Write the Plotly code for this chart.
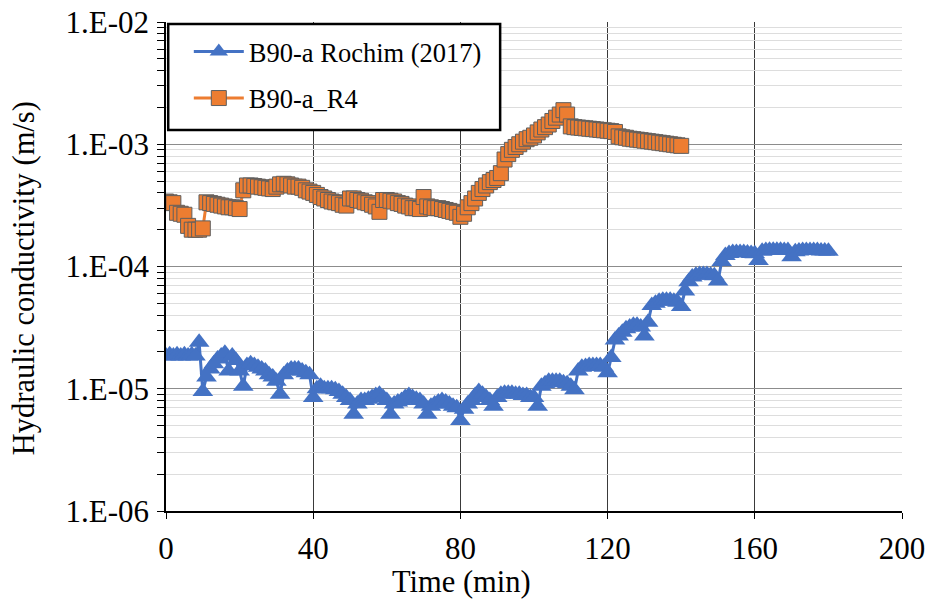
import plotly.graph_objects as go

# Hydraulic conductivity readings, one per minute
rochim_k_e5 = [
    1.85, 1.9, 1.85, 1.9, 1.85, 1.9, 1.85, 1.9, 1.85, 2.4,
    0.95, 1.25, 1.45, 1.6, 1.75, 1.85, 1.95, 1.4, 1.85, 1.7,
    1.4, 1.05, 1.55, 1.6, 1.55, 1.5, 1.45, 1.4, 1.3, 1.25,
    1.15, 0.9, 1.3, 1.4, 1.45, 1.45, 1.45, 1.4, 1.35, 1.3,
    0.85, 1.0, 1.05, 1.0, 1.0, 1.0, 0.98, 0.95, 0.9, 0.85,
    0.8, 0.62, 0.75, 0.8, 0.8, 0.82, 0.85, 0.88, 0.9, 0.85,
    0.8, 0.62, 0.75, 0.78, 0.8, 0.85, 0.88, 0.85, 0.82, 0.8,
    0.75, 0.62, 0.72, 0.75, 0.78, 0.8, 0.78, 0.75, 0.72, 0.7,
    0.55, 0.68, 0.75, 0.8, 0.88, 0.95, 0.9, 0.85, 0.8, 0.72,
    0.85, 0.9, 0.92, 0.92, 0.92, 0.9, 0.9, 0.88, 0.88, 0.85,
    0.85, 0.72, 1.05, 1.1, 1.15, 1.15, 1.15, 1.15, 1.12, 1.1,
    1.05, 0.98, 1.4, 1.5, 1.52, 1.55, 1.55, 1.55, 1.55, 1.5,
    1.35, 1.8, 2.5, 2.7, 2.9, 3.1, 3.2, 3.3, 3.3, 3.2,
    2.7, 3.5, 4.8, 5.0, 5.2, 5.3, 5.3, 5.3, 5.2, 5.1,
    4.7, 6.3, 7.5, 8.2, 8.5, 8.6, 8.6, 8.6, 8.5, 8.4,
    7.6, 11.0, 12.3, 12.8, 13.0, 13.0, 13.0, 13.0, 12.9, 12.8,
    12.7, 11.2, 13.3, 13.5, 13.6, 13.6, 13.6, 13.6, 13.5, 13.5,
    12.0, 13.2, 13.4, 13.5, 13.5, 13.5, 13.5, 13.5, 13.4, 13.4,
    13.3,
]

r4_k_e4 = [
    3.4, 3.35, 3.3, 2.75, 2.7, 2.65, 2.15, 2.0, 2.0, 2.0,
    2.05, 3.35, 3.3, 3.25, 3.2, 3.15, 3.1, 3.05, 3.05, 3.0,
    2.95, 4.2, 4.6, 4.6, 4.55, 4.5, 4.45, 4.4, 4.35, 4.3,
    4.5, 4.7, 4.75, 4.7, 4.6, 4.5, 4.5, 4.4, 4.2, 4.1,
    4.0, 3.85, 3.7, 3.6, 3.5, 3.4, 3.35, 3.3, 3.2, 3.15,
    3.6, 3.6, 3.5, 3.45, 3.35, 3.3, 3.2, 3.1, 2.8, 3.5,
    3.5, 3.45, 3.4, 3.3, 3.25, 3.15, 3.1, 3.0, 3.0, 2.95,
    3.7, 3.1, 3.05, 3.0, 3.0, 2.95, 2.9, 2.85, 2.8, 2.75,
    2.55, 2.7, 3.05, 3.3, 3.6, 4.0, 4.3, 4.6, 4.9, 5.1,
    5.3, 5.8, 7.5, 8.3, 9.0, 9.5, 10.0, 10.5, 11.0, 11.3,
    11.8, 12.5, 13.2, 13.8, 14.5, 15.5, 16.5, 17.5, 19.0, 17.5,
    14.0, 13.8, 13.7, 13.6, 13.5, 13.4, 13.3, 13.2, 13.1, 13.0,
    12.9, 12.8, 12.6, 11.6, 11.4, 11.3, 11.1, 11.0, 10.9, 10.8,
    10.7, 10.6, 10.5, 10.4, 10.3, 10.2, 10.1, 10.0, 9.9, 9.8,
    9.7,
]

rochim_time = list(range(len(rochim_k_e5)))
r4_time = list(range(len(r4_k_e4)))
rochim_k = [v * 1e-5 for v in rochim_k_e5]
r4_k = [v * 1e-4 for v in r4_k_e4]

y_tick_vals = [1e-6, 1e-5, 1e-4, 1e-3, 1e-2]
y_tick_text = ['1.E-06', '1.E-05', '1.E-04', '1.E-03', '1.E-02']
y_minor_vals = [k * d for d in [1e-6, 1e-5, 1e-4, 1e-3] for k in range(2, 10)]
x_tick_vals = [0, 40, 80, 120, 160, 200]
x_grid_vals = [40, 80, 120, 160]

serif = 'Liberation Serif'
axis_font = dict(family=serif, size=31, color='black')
title_font = dict(family=serif, size=30.5, color='black')
legend_font = dict(family=serif, size=26.5, color='black')

fig = go.Figure()
fig.add_trace(go.Scatter(x=rochim_time, y=rochim_k, mode='lines+markers',
                         name='B90-a Rochim (2017)', legendgroup='a',
                         line=dict(color='#4472C4', width=3),
                         marker=dict(symbol='triangle-up', size=18, color='#4472C4',
                                     line=dict(width=0))))
fig.add_trace(go.Scatter(x=r4_time, y=r4_k, mode='lines+markers',
                         name='B90-a_R4', legendgroup='b',
                         line=dict(color='#ED7D31', width=3),
                         marker=dict(symbol='square', size=15, color='#ED7D31',
                                     line=dict(width=1, color='#5f5f5f'))))

# legend frame
fig.add_shape(type='rect', xref='paper', yref='paper',
              x0=0.003, x1=0.454, y0=0.779, y1=0.996,
              line=dict(color='black', width=2.5), fillcolor='white', layer='above')

# axis titles (the x title sits left of centre, as in the original)
fig.add_annotation(text='Time (min)', xref='paper', yref='paper', x=0.402, y=-0.146,
                   xanchor='center', yanchor='middle', showarrow=False, font=title_font)
fig.add_annotation(text='Hydraulic conductivity (m/s)', xref='paper', yref='paper',
                   x=-0.193, y=0.476, textangle=-90, xanchor='center', yanchor='middle',
                   showarrow=False, font=title_font)

fig.update_layout(
    width=927, height=600,
    margin=dict(l=166, r=25, t=22, b=89),
    paper_bgcolor='white', plot_bgcolor='white',
    font=axis_font,
    showlegend=True,
    legend=dict(x=0.031, y=0.988, xanchor='left', yanchor='top',
                bgcolor='rgba(0,0,0,0)', borderwidth=0,
                traceorder='grouped', tracegroupgap=9, itemwidth=50,
                font=legend_font),
    xaxis=dict(range=[0, 200], tickvals=x_tick_vals, showgrid=False, automargin=False,
               showline=True, linecolor='black', linewidth=1.5, ticks='outside',
               ticklen=6, tickcolor='black', zeroline=False, tickfont=axis_font,
               ticklabelstandoff=3, ticklabeloverflow='allow',
               minor=dict(tickmode='array', tickvals=x_grid_vals, showgrid=True,
                          gridcolor='#3a3a3a', gridwidth=1.3, ticks='')),
    yaxis=dict(type='log', range=[-6, -2], tickvals=y_tick_vals, ticktext=y_tick_text,
               showgrid=True, gridcolor='#8c8c8c', gridwidth=1.3, showline=True,
               linecolor='black', linewidth=1.5, ticks='outside', ticklen=7,
               tickcolor='black', zeroline=False, automargin=False, tickfont=axis_font,
               ticklabelstandoff=2, ticklabeloverflow='allow',
               minor=dict(tickmode='array', tickvals=y_minor_vals, showgrid=True,
                          gridcolor='#dddddd', gridwidth=1.3, ticks='outside',
                          ticklen=7, tickcolor='black')),
)

# drop the page's default body margin so the 927x600 figure fills the window
fig.write_html('out.html', config={'displayModeBar': False},
               post_script="document.body.style.margin='0';")
